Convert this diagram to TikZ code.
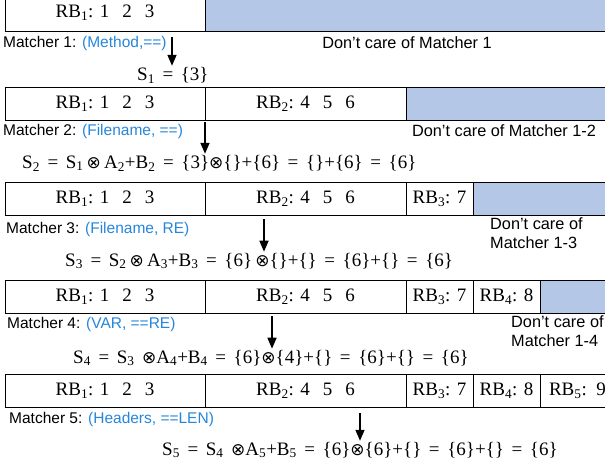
\documentclass[tikz,border=0pt]{standalone}
\usepackage{fontspec}
\setmainfont{Liberation Serif}
\setsansfont{Liberation Sans}
\newfontfamily\symfont{DejaVu Sans}
\usepackage{xcolor}
\usepackage{tikz}
\usetikzlibrary{arrows.meta, positioning}

\definecolor{careblue}{RGB}{180,199,231}
\definecolor{mblue}{RGB}{38,134,219}

\newcommand{\ox}{{\symfont\fontsize{17}{17}\selectfont ⊗}}
\newcommand{\sbs}[1]{\textsubscript{#1}}
\newcommand{\gap}{\hspace{13pt}}

\tikzset{
  cell/.style={draw, line width=1pt, minimum height=33pt, inner sep=0pt, outer sep=0pt,
    anchor=north west, font=\fontsize{19}{22}\selectfont},
  care/.style={cell, fill=careblue},
  mlabel/.style={anchor=west, inner sep=0pt, font=\sffamily\fontsize{15.5}{18}\selectfont},
  dlabel/.style={inner sep=0pt, align=left, font=\sffamily\fontsize{16.3}{19.5}\selectfont},
  seq/.style={anchor=west, inner sep=1pt, font={\fontsize{19}{22}\selectfont\spaceskip=7.6pt\relax}},
  arr/.style={line width=1.6pt, -{Triangle[length=11pt,width=9pt]}},
}

\begin{document}
\begin{tikzpicture}[x=1pt, y=-1pt]
  \useasboundingbox (0,0) rectangle (605,467);

  % row 1
  \node[cell, minimum width=200pt, minimum height=36pt] (r1a) at (5,-5) {RB\sbs{1}: 1\gap 2\gap 3};
  \node[care, minimum width=420pt, minimum height=36pt, right=0pt of r1a] (r1x) {};
  \node[mlabel] (m1) at (3,43) {Matcher 1: \textcolor{mblue}{(Method,==)}};
  \node[dlabel] (d1) at (407,43) {Don’t care of Matcher 1};
  \node[seq] (s1) at (136,75) {S\sbs{1} = \{3\}};
  \coordinate (a1) at (172,37);
  \draw[arr] (a1) -- (a1 |- s1.north);

  % row 2
  \node[cell, minimum width=200pt] (r2a) at (5,87) {RB\sbs{1}: 1\gap 2\gap 3};
  \node[cell, minimum width=201pt, right=0pt of r2a] (r2b) {RB\sbs{2}: 4\gap 5\gap 6};
  \node[care, minimum width=220pt, right=0pt of r2b] (r2x) {};
  \node[mlabel] (m2) at (3,131) {Matcher 2: \textcolor{mblue}{(Filename, ==)}};
  \node[dlabel] (d2) at (504,131) {Don’t care of Matcher 1-2};
  \node[seq] (s2) at (21,163) {S\sbs{2} = S\sbs{1}\,\ox\,A\sbs{2}+B\sbs{2} = \{3\}\ox\{\}+\{6\} = \{\}+\{6\} = \{6\}};
  \coordinate (a2) at (205,122);
  \draw[arr] (a2) -- (a2 |- s2.north);

  % row 3
  \node[cell, minimum width=200pt] (r3a) at (5,182) {RB\sbs{1}: 1\gap 2\gap 3};
  \node[cell, minimum width=201pt, right=0pt of r3a] (r3b) {RB\sbs{2}: 4\gap 5\gap 6};
  \node[cell, minimum width=67pt, right=0pt of r3b] (r3c) {RB\sbs{3}: 7};
  \node[care, minimum width=150pt, right=0pt of r3c] (r3x) {};
  \node[mlabel] (m3) at (6,229) {Matcher 3: \textcolor{mblue}{(Filename, RE)}};
  \node[dlabel, anchor=west] (d3) at (490,233) {Don’t care of\\Matcher 1-3};
  \node[seq] (s3) at (64,261) {S\sbs{3} = S\sbs{2}\,\ox\,A\sbs{3}+B\sbs{3} = \{6\}\,\ox\{\}+\{\} = \{6\}+\{\} = \{6\}};
  \coordinate (a3) at (264,219);
  \draw[arr] (a3) -- (a3 |- s3.north);

  % row 4
  \node[cell, minimum width=200pt] (r4a) at (5,280) {RB\sbs{1}: 1\gap 2\gap 3};
  \node[cell, minimum width=201pt, right=0pt of r4a] (r4b) {RB\sbs{2}: 4\gap 5\gap 6};
  \node[cell, minimum width=67pt, right=0pt of r4b] (r4c) {RB\sbs{3}: 7};
  \node[cell, minimum width=67pt, right=0pt of r4c] (r4d) {RB\sbs{4}: 8};
  \node[care, minimum width=90pt, right=0pt of r4d] (r4x) {};
  \node[mlabel] (m4) at (7,324) {Matcher 4: \textcolor{mblue}{(VAR, ==RE)}};
  \node[dlabel, anchor=west] (d4) at (511,331) {Don’t care of\\Matcher 1-4};
  \node[seq] (s4) at (72,358) {S\sbs{4} = S\sbs{3} \ox A\sbs{4}+B\sbs{4} = \{6\}\ox\{4\}+\{\} = \{6\}+\{\} = \{6\}};
  \coordinate (a4) at (272,316);
  \draw[arr] (a4) -- (a4 |- s4.north);

  % row 5
  \node[cell, minimum width=200pt] (r5a) at (5,374) {RB\sbs{1}: 1\gap 2\gap 3};
  \node[cell, minimum width=201pt, right=0pt of r5a] (r5b) {RB\sbs{2}: 4\gap 5\gap 6};
  \node[cell, minimum width=67pt, right=0pt of r5b] (r5c) {RB\sbs{3}: 7};
  \node[cell, minimum width=67pt, right=0pt of r5c] (r5d) {RB\sbs{4}: 8};
  \node[cell, minimum width=90pt, right=0pt of r5d, text width=84pt, align=left] (r5e) {\hspace{6pt}RB\sbs{5}: 9};
  \node[mlabel] (m5) at (9,419) {Matcher 5: \textcolor{mblue}{(Headers, ==LEN)}};
  \node[seq] (s5) at (161,450) {S\sbs{5} = S\sbs{4} \ox A\sbs{5}+B\sbs{5} = \{6\}\ox\{6\}+\{\} = \{6\}+\{\} = \{6\}};
  \coordinate (a5) at (360,413);
  \draw[arr] (a5) -- (a5 |- s5.north);
\end{tikzpicture}
\end{document}
